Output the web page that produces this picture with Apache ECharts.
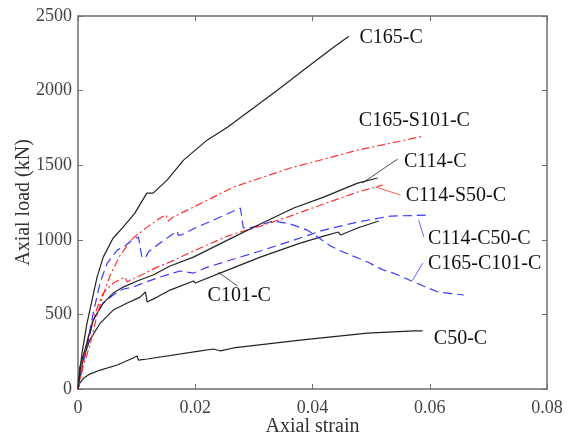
<!DOCTYPE html>
<html><head><meta charset="utf-8">
<script src="https://cdn.jsdelivr.net/npm/echarts@6/dist/echarts.min.js"></script>
<style>html,body{margin:0;padding:0;background:#fff}#c{width:570px;height:442px}</style>
</head><body><div id="c"></div>
<script>
var xTicks = [0, 0.02, 0.04, 0.06, 0.08];
var yTicks = [0, 500, 1000, 1500, 2000, 2500];

var C165_C = [[0,0],[0.00068,241],[0.00154,442],[0.0024,596],[0.00325,750],[0.0043,884],[0.006,1012],[0.0077,1085],[0.0097,1179],[0.01174,1313],[0.0128,1313],[0.0152,1400],[0.018,1534],[0.022,1668],[0.0255,1755],[0.0294,1869],[0.034,2003],[0.0391,2157],[0.0436,2291],[0.0462,2365]];
var C165_S101_C = [[0,0],[0.00085,147],[0.00205,295],[0.00325,496],[0.0043,630],[0.0055,764],[0.0072,898],[0.0094,1012],[0.0118,1085],[0.014,1146],[0.015,1166],[0.0154,1126],[0.0162,1152],[0.0197,1219],[0.0231,1286],[0.0265,1353],[0.0311,1414],[0.0362,1481],[0.0419,1540],[0.0477,1601],[0.0533,1648],[0.059,1695]];
var C165_C101_C = [[0,0],[0.0003,60],[0.0015,281],[0.0026,509],[0.0038,717],[0.005,844],[0.0067,931],[0.008,958],[0.0092,998],[0.0103,1018],[0.0109,884],[0.0115,878],[0.012,918],[0.014,978],[0.0169,1059],[0.0171,1032],[0.0176,1032],[0.0203,1085],[0.0231,1132],[0.0277,1213],[0.028,1219],[0.0282,1079],[0.0299,1085],[0.0333,1126],[0.0362,1106],[0.0391,1065],[0.0409,1018],[0.0431,958],[0.0448,925],[0.0477,878],[0.0494,851],[0.0521,797],[0.0538,777],[0.0573,717],[0.0614,650],[0.0658,630]];
var C114_C = [[0,0],[0.0003,147],[0.0015,308],[0.0026,462],[0.0043,576],[0.006,643],[0.0077,683],[0.0101,724],[0.0128,764],[0.0157,824],[0.0197,884],[0.0255,998],[0.0311,1106],[0.0368,1213],[0.0419,1286],[0.0477,1380],[0.0511,1414]];
var C114_S50_C = [[0,0],[0.00085,194],[0.002,395],[0.00325,543],[0.0043,643],[0.006,710],[0.008,750],[0.0084,717],[0.0089,730],[0.0101,750],[0.0135,817],[0.0157,851],[0.0197,925],[0.0255,1025],[0.0311,1092],[0.0362,1159],[0.0419,1240],[0.0477,1320],[0.052,1367]];
var C114_C50_C = [[0,0],[0.0003,107],[0.0015,281],[0.0026,462],[0.0043,576],[0.006,630],[0.0077,670],[0.0094,683],[0.0111,710],[0.014,750],[0.0174,791],[0.0197,777],[0.0221,817],[0.0255,858],[0.0311,925],[0.0379,1012],[0.0419,1065],[0.0477,1119],[0.0533,1159],[0.0602,1166]];
var C101_C = [[0,0],[0.00085,194],[0.002,328],[0.0038,442],[0.006,529],[0.0084,576],[0.0106,616],[0.0115,650],[0.0118,583],[0.0135,616],[0.0157,663],[0.0197,724],[0.02,710],[0.0255,797],[0.0311,884],[0.0379,978],[0.0419,1025],[0.0444,1052],[0.0448,1032],[0.0477,1079],[0.0513,1126]];
var C50_C = [[0,0],[0.0003,40],[0.001,74],[0.002,100],[0.0038,127],[0.0067,161],[0.0094,208],[0.0101,221],[0.0103,194],[0.0118,201],[0.0209,255],[0.0231,268],[0.0243,255],[0.0265,275],[0.0379,328],[0.0494,375],[0.0573,389],[0.0588,389]];

var labelNames = ['C165-C','C165-S101-C','C114-C','C114-S50-C','C114-C50-C','C165-C101-C','C101-C','C50-C'];
var labelAnchors = [[0.048,2352],[0.0479,1796],[0.0556,1521],[0.0559,1293],[0.0597,1005],[0.0597,838],[0.0221,623],[0.0607,335]];
var leaderC114C = [[0.0485,1380],[0.0545,1541]];
var leaderC114S50C = [[0.0508,1353],[0.055,1300]];
var leaderC114C50C = [[0.0581,1132],[0.059,1018]];
var leaderC165C101C = [[0.0588,844],[0.0571,730]];
var leaderC101C = [[0.0239,784],[0.0272,690]];

var FONT = 'Liberation Serif';
var BLACK = '#222', RED = '#ff3030', BLUE = '#3a3aff', AX = '#6e6e6e';
var DASHDOT = [8,3,2,3], DASH = [9,5];

function ln(data, color, type, w) {
  return {type:'line', data:data, showSymbol:false, symbol:'none', silent:true,
    lineStyle:{color:color, width:w||1.2, type:type||'solid'}, animation:false, z:3};
}

var chart = echarts.init(document.getElementById('c'), null, {renderer:'canvas'});
var axisCommon = {
  min:0, axisLine:{show:true, onZero:false, lineStyle:{color:AX, width:1.5}},
  axisTick:{show:true, inside:true, length:5, lineStyle:{color:AX, width:1}},
  splitLine:{show:false}
};
chart.setOption({
  animation:false,
  backgroundColor:'#fff',
  grid:{left:78, right:23, top:16, bottom:53, containLabel:false, outerBoundsMode:'none'},
  xAxis:[
    Object.assign({}, axisCommon, {type:'value', max:0.08, interval:0.02, position:'bottom',
      name:'Axial strain', nameLocation:'middle', nameGap:28, nameMoveOverlap:false,
      nameTextStyle:{fontFamily:FONT, fontSize:20, color:'#333'},
      axisLabel:{fontFamily:FONT, fontSize:18, color:'#444', margin:10,
        formatter:function(v){ var i = xTicks.indexOf(+v.toFixed(2)); return i<0 ? '' : String(xTicks[i]); }}}),
    Object.assign({}, axisCommon, {type:'value', max:0.08, interval:0.02, position:'top', axisLabel:{show:false}})
  ],
  yAxis:[
    Object.assign({}, axisCommon, {type:'value', max:2500, interval:500, position:'left',
      name:'Axial load (kN)', nameLocation:'middle', nameGap:44, nameMoveOverlap:false,
      nameTextStyle:{fontFamily:FONT, fontSize:20, color:'#333'},
      axisLabel:{fontFamily:FONT, fontSize:18, color:'#444', margin:6,
        formatter:function(v){ return yTicks.indexOf(v)<0 ? '' : String(v); }}}),
    Object.assign({}, axisCommon, {type:'value', max:2500, interval:500, position:'right', axisLabel:{show:false}})
  ],
  series:[
    ln(C50_C, BLACK), ln(C101_C, BLACK), ln(C114_C50_C, BLUE, DASH), ln(C165_C101_C, BLUE, DASH),
    ln(C114_S50_C, RED, DASHDOT), ln(C114_C, BLACK), ln(C165_S101_C, RED, DASHDOT), ln(C165_C, BLACK),
    ln(leaderC114C, BLACK, 'solid', 0.8), ln(leaderC114S50C, RED, 'solid', 0.8),
    ln(leaderC114C50C, BLUE, 'solid', 0.8), ln(leaderC165C101C, BLUE, 'solid', 0.8),
    ln(leaderC101C, BLACK, 'solid', 0.8)
  ]
});
var g = labelNames.map(function(n, i){
  var p = chart.convertToPixel({gridIndex:0}, labelAnchors[i]);
  return {type:'text', x:p[0], y:p[1], z:10,
    style:{text:n, fontFamily:FONT, fontSize:20, fill:'#111', align:'left', verticalAlign:'middle'}};
});
chart.setOption({graphic:g});
</script></body></html>
